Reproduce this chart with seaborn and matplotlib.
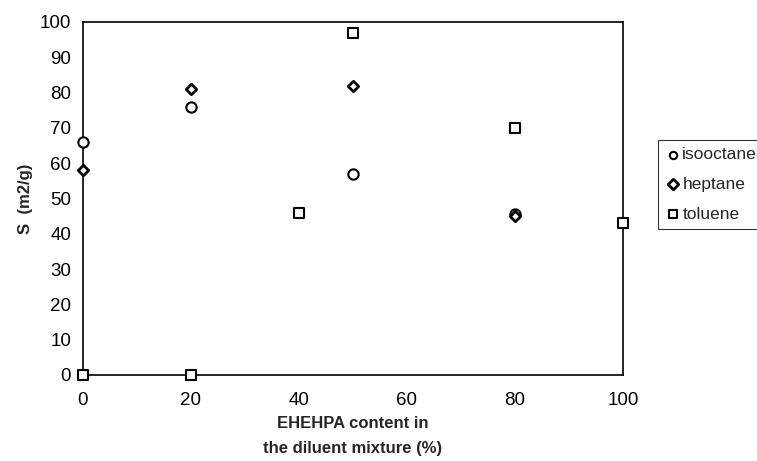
import matplotlib
matplotlib.use("Agg")
import matplotlib.pyplot as plt
import seaborn as sns
import pandas as pd

sns.set_style("white")
plt.rcParams['font.family'] = ['Liberation Sans', 'DejaVu Sans']

# data
iso_x = [0, 20, 50, 80]
iso_y = [66, 76, 57, 45.5]
hep_x = [0, 20, 50, 80]
hep_y = [58, 81, 82, 45]
tol_x = [0, 20, 40, 50, 80, 100]
tol_y = [0, 0, 46, 97, 70, 43]
series = ["isooctane", "heptane", "toluene"]

df = pd.concat([
    pd.DataFrame({"x": iso_x, "y": iso_y, "solvent": "isooctane"}),
    pd.DataFrame({"x": hep_x, "y": hep_y, "solvent": "heptane"}),
    pd.DataFrame({"x": tol_x, "y": tol_y, "solvent": "toluene"}),
])

fig = plt.figure(figsize=(7.57, 4.61), dpi=100)
ax = fig.add_axes([0.1096, 0.1866, 0.7134, 0.7657])

markers = {"isooctane": "o", "heptane": "D", "toluene": "s"}
sizes = {"isooctane": 55, "heptane": 28, "toluene": 60}
widths = {"isooctane": 1.5, "heptane": 2.0, "toluene": 1.5}
for name in series:
    sub = df[df["solvent"] == name]
    sns.scatterplot(data=sub, x="x", y="y", marker=markers[name], s=sizes[name],
                    facecolor="white", edgecolor="black", linewidth=widths[name],
                    label=name, ax=ax, clip_on=False, zorder=3)

ax.set_xlim(0, 100)
ax.set_ylim(0, 100)
ax.set_xticks(range(0, 101, 20))
ax.set_yticks(range(0, 101, 10))
ax.tick_params(direction="out", length=4, width=0.8, labelsize=13.5, colors="black")
ax.tick_params(axis="x", pad=8)
ax.tick_params(axis="y", pad=4.5)
for sp in ax.spines.values():
    sp.set_color("black")
    sp.set_linewidth(1.2)

ax.set_xlabel("EHEHPA content in\nthe diluent mixture (%)", fontsize=12,
              fontweight="bold", labelpad=5.5, linespacing=1.8)
ax.set_ylabel("S  (m2/g)", fontsize=12, fontweight="bold", labelpad=5)

leg = ax.legend(loc="upper left", bbox_to_anchor=(658 / 757, 1 - 140 / 461),
                bbox_transform=fig.transFigure, frameon=True,
                fancybox=False, edgecolor="black", fontsize=12.5,
                handletextpad=0.1, borderpad=0.4, labelspacing=0.85,
                handlelength=0.9, borderaxespad=0)
leg.get_frame().set_linewidth(0.8)
for h in leg.legend_handles:
    h.set_sizes([28])

fig.savefig("out.png", dpi=100)
